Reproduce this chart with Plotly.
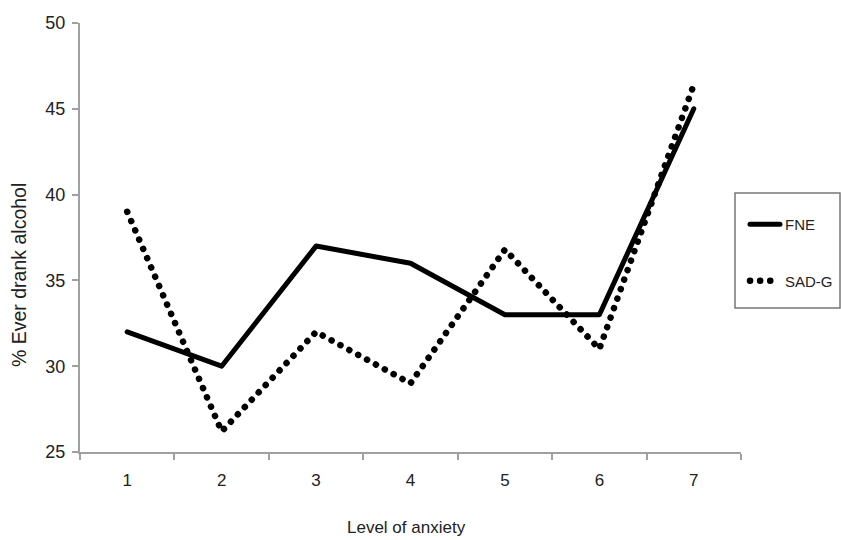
import plotly.graph_objects as go

categories = ["1", "2", "3", "4", "5", "6", "7"]
fne = [32, 30, 37, 36, 33, 33, 45]
sad_g = [39, 26.2, 32, 29, 36.8, 31, 46.4]
y_ticks = [25, 30, 35, 40, 45, 50]

FONT = "Liberation Sans, Arial, sans-serif"
AXIS_COLOR = "#a0a0a0"

L, R, T, B = 80, 100, 23, 88
W, H = 841, 540
pw, ph = W - L - R, H - T - B

def px2x(px):
    return (px - L) / pw

def px2y(py):
    return (H - B - py) / ph

fig = go.Figure()
fig.add_trace(go.Scatter(x=categories, y=fne, mode="lines", name="FNE",
                         line=dict(color="black", width=5), legendgroup="a"))
fig.add_trace(go.Scatter(x=categories, y=sad_g, mode="lines", name="SAD-G",
                         line=dict(color="black", width=6.5, dash="0.1px,10px"), legendgroup="b"))

fig.add_shape(type="rect", xref="paper", yref="paper",
              x0=px2x(735), x1=px2x(840), y0=px2y(308), y1=px2y(193),
              line=dict(color="#777", width=1.5), fillcolor="rgba(0,0,0,0)")

fig.add_annotation(text="% Ever drank alcohol", textangle=-90, xref="paper", yref="paper",
                   x=px2x(19), y=px2y(275), xanchor="center", yanchor="middle", showarrow=False,
                   font=dict(family=FONT, size=19.5, color="#222"))
fig.add_annotation(text="Level of anxiety", xref="paper", yref="paper",
                   x=px2x(406), y=px2y(527), xanchor="center", yanchor="middle", showarrow=False,
                   font=dict(family=FONT, size=17, color="#222"))

fig.update_layout(
    width=W, height=H,
    margin=dict(l=L, r=R, t=T, b=B, autoexpand=False),
    paper_bgcolor="white", plot_bgcolor="white",
    font=dict(family=FONT, size=17, color="#222"),
    showlegend=True,
    legend=dict(x=px2x(745), y=px2y(208), xanchor="left", yanchor="top",
                bgcolor="rgba(0,0,0,0)", borderwidth=0, traceorder="grouped",
                tracegroupgap=34, font=dict(family=FONT, size=15, color="#222")),
    xaxis=dict(type="category", categoryorder="array", categoryarray=categories,
               range=[-0.5, 6.5], tickson="boundaries", showline=True,
               linecolor=AXIS_COLOR, linewidth=2, ticks="outside", ticklen=6,
               tickwidth=2, tickcolor=AXIS_COLOR, showgrid=False, zeroline=False,
               ticklabelstandoff=12, tickfont=dict(family=FONT, size=17, color="#222")),
    yaxis=dict(range=[25, 50], tickvals=y_ticks, showline=True,
               linecolor=AXIS_COLOR, linewidth=2, ticks="outside", ticklen=6,
               tickwidth=2, tickcolor=AXIS_COLOR, showgrid=False, zeroline=False,
               ticklabelstandoff=3, tickfont=dict(family=FONT, size=18, color="#222")),
)

post = ("var s=document.createElement('style');"
        "s.innerHTML='body{margin:0;padding:0}.js-line{stroke-linecap:round;stroke-linejoin:round}';"
        "document.head.appendChild(s);")
fig.write_html("out.html", post_script=post, config={"displayModeBar": False})
